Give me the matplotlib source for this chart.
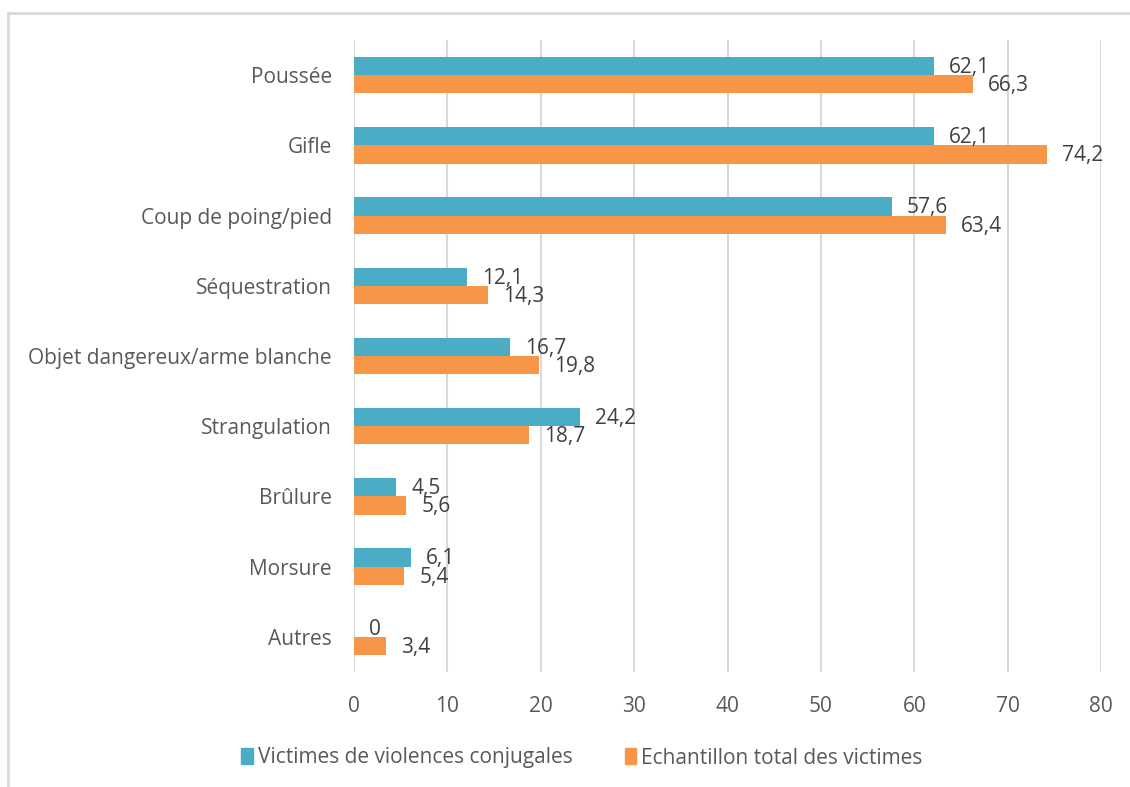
"""Horizontal grouped bar chart: types of physical violence"""

import numpy as np
import matplotlib.pyplot as plt
from matplotlib.lines import Line2D

categories = ['Poussée', 'Gifle', 'Coup de poing/pied', 'Séquestration',
              'Objet dangereux/arme blanche', 'Strangulation', 'Brûlure',
              'Morsure', 'Autres']
conjugales = [62.1, 62.1, 57.6, 12.1, 16.7, 24.2, 4.5, 6.1, 0]
total = [66.3, 74.2, 63.4, 14.3, 19.8, 18.7, 5.6, 5.4, 3.4]
series_names = ['Victimes de violences conjugales', 'Echantillon total des victimes']
x_ticks = [0, 10, 20, 30, 40, 50, 60, 70, 80]

BLUE = '#4BACC6'
ORANGE = '#F79646'
GRID = '#d9d9d9'
FS = 15

plt.rcParams['font.family'] = ['Open Sans', 'DejaVu Sans']

fig = plt.figure(figsize=(11.3, 7.87), dpi=100)
ax = fig.add_axes([354 / 1130, 1 - 672 / 787, (1101 - 354) / 1130, (672 - 40) / 787])

n = len(categories)
y = np.arange(n)
h = 0.26

# Bars (first category on top)
ax.barh(y - h / 2, conjugales, height=h, color=BLUE, label=series_names[0], zorder=2)
ax.barh(y + h / 2, total, height=h, color=ORANGE, label=series_names[1], zorder=2)

def fmt(v):
    s = f'{v:.1f}'.replace('.', ',')
    return '0' if v == 0 else s

# Value labels, as in the source chart they can touch each other
for yi, v in zip(y, conjugales):
    ax.annotate(fmt(v), (v, yi - h / 2), xytext=(11, -1), textcoords='offset points',
                va='center', ha='left', fontsize=FS, color='#404040')
for yi, v in zip(y, total):
    ax.annotate(fmt(v), (v, yi + h / 2), xytext=(11, -1), textcoords='offset points',
                va='center', ha='left', fontsize=FS, color='#404040')

ax.set_ylim(n - 0.5, -0.5)
ax.set_xlim(0, 80)
ax.set_yticks(y)
ax.set_yticklabels(categories)
ax.set_xticks(x_ticks)
ax.tick_params(axis='both', length=0, labelsize=FS, labelcolor='#595959')
ax.tick_params(axis='x', pad=17)
ax.tick_params(axis='y', pad=16)

ax.grid(axis='x', color=GRID, linewidth=1.5, zorder=0)
for s in ax.spines.values():
    s.set_visible(False)

handles = [plt.Rectangle((0, 0), 1, 1, color=BLUE), plt.Rectangle((0, 0), 1, 1, color=ORANGE)]
fig.legend(handles, series_names, loc='center', bbox_to_anchor=(0.515, 1 - 758 / 787),
           ncol=2, frameon=False, fontsize=FS, handlelength=0.55, handleheight=0.8,
           handletextpad=0.25, columnspacing=2.5, labelcolor='#595959')

# Outer frame (top and left edges visible)
fig.add_artist(Line2D([8 / 1130, 1], [1 - 13 / 787] * 2, color=GRID, linewidth=2,
                      transform=fig.transFigure))
fig.add_artist(Line2D([8 / 1130] * 2, [0, 1 - 13 / 787], color=GRID, linewidth=2,
                      transform=fig.transFigure))

fig.savefig('out.png', dpi=100)
